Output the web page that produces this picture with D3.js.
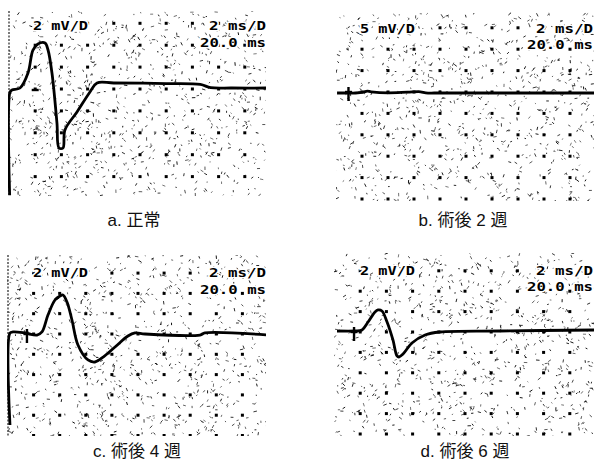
<!DOCTYPE html>
<html>
<head>
<meta charset="utf-8">
<script src="https://cdn.jsdelivr.net/npm/d3@7"></script>
<style>
  body { margin: 0; background: #fff; }
  svg { display: block; }
</style>
</head>
<body>
<svg id="chart" width="594" height="461"></svg>
<script>
// captions and screen labels
var captions = ["a. 正常", "b. 術後 2 週", "c. 術後 4 週", "d. 術後 6 週"];
var gainLabels = ["2 mV/D", "5 mV/D", "2 mV/D", "2 mV/D"];
var mvPerDiv = [2, 5, 2, 2];
var sweepLabel = "2 ms/D";
var delayLabel = "20.0 ms";

// traces: time (ms) and amplitude (mV)
var msA = [0.05, 0.08, 0.23, 0.84, 1.45, 1.83, 2.21, 2.75, 2.98, 3.28, 3.66, 3.82, 4.12, 4.27, 5.19, 6.18, 6.72, 8.0, 12.0, 14.6, 15.4, 17.0, 20.0];
var mvA = [-9.7, -0.27, -0.09, 0.09, 1.46, 3.56, 4.11, 4.2, 3.56, 1.46, -3.1, -5.39, -5.39, -3.74, -2.1, -0.27, 0.55, 0.55, 0.5, 0.42, 0.12, 0.09, 0.09];

var msB = [0.08, 0.96, 1.5, 2.1, 2.4, 2.7, 4.0, 5.5, 6.5, 6.9, 8.0, 12.0, 20.0];
var mvB = [-0.23, -0.23, -0.23, -0.05, 0.2, 0.05, -0.2, -0.05, 0.05, -0.2, -0.23, -0.23, -0.23];

var msC = [0.19, 0.19, 0.42, 1.34, 2.26, 2.64, 3.1, 3.64, 4.02, 4.25, 4.56, 4.94, 5.4, 6.17, 6.7, 7.24, 8.24, 9.23, 9.77, 10.54, 14.75, 15.13, 20.0];
var mvC = [-8.97, 0.1, 0.2, 0.1, -0.1, 0.2, 1.87, 3.35, 3.74, 3.84, 3.15, 1.38, -1.08, -2.56, -2.76, -2.36, -1.28, -0.2, 0.1, 0.0, -0.1, 0.1, -0.1];

var msD = [0.23, 1.6, 2.14, 2.6, 3.13, 3.36, 3.66, 4.05, 4.5, 4.81, 4.96, 5.27, 5.95, 6.95, 8.09, 12.67, 20.0];
var mvD = [0.1, 0.1, 0.2, 0.98, 1.96, 2.16, 2.06, 0.98, -0.78, -2.35, -2.45, -2.16, -1.08, -0.29, 0.0, 0.1, 0.2];

// stimulus marker position (ms)
var markerMs = [2.0, 0.96, 1.49, 1.53];

var traceMs = [msA, msB, msC, msD];
var traceMv = [mvA, mvB, mvC, mvD];

// screen geometry of each photo
var layout = [
  { left: 8, top: 11, right: 266, bottom: 196, x0: 9, divX: 26.2, baseY: 89, divY: 21.9,
    gainX: 33, gainY: 30, labelRight: 266, delayY: 47, capX: 134, capY: 226, edge: true, dash: true },
  { left: 336, top: 12, right: 594, bottom: 201, x0: 336, divX: 26.0, baseY: 92, divY: 21.4,
    gainX: 360, gainY: 33, labelRight: 593, delayY: 49, capX: 463, capY: 226, edge: false, dash: false },
  { left: 7, top: 255, right: 266, bottom: 436, x0: 7.5, divX: 26.1, baseY: 334, divY: 20.3,
    gainX: 33, gainY: 277, labelRight: 266, delayY: 294, capX: 137, capY: 457, edge: true, dash: false },
  { left: 334, top: 253, right: 594, bottom: 436, x0: 334, divX: 26.2, baseY: 332, divY: 20.4,
    gainX: 360, gainY: 275, labelRight: 593, delayY: 291, capX: 465, capY: 457, edge: false, dash: false }
];

var svg = d3.select("#chart");
var defs = svg.append("defs");

var drawPanel = function (i) {
  var L = layout[i];
  var x = d3.scaleLinear().domain([0, 20]).range([L.x0, L.x0 + 10 * L.divX]);
  var y = d3.scaleLinear().domain([0, mvPerDiv[i]]).range([L.baseY, L.baseY - L.divY]);

  defs.append("clipPath").attr("id", "clip" + i)
    .append("rect")
      .attr("x", L.left).attr("y", L.top)
      .attr("width", L.right - L.left).attr("height", L.bottom - L.top);

  var g = svg.append("g").attr("clip-path", "url(#clip" + i + ")");

  // photo grain (fixed seed so it is the same every time)
  var rnd = d3.randomLcg(0.137 + i * 0.21);
  var specks = d3.range(880).map(function () {
    var px = L.left + rnd() * (L.right - L.left);
    var py = L.top + rnd() * (L.bottom - L.top);
    var a = rnd() * Math.PI;
    var len = 1 + rnd() * 2.6;
    return [px, py, px + Math.cos(a) * len, py + Math.sin(a) * len, 0.55 + rnd() * 0.45];
  });
  g.selectAll("line.speck")
    .data(specks)
    .enter().append("line")
      .attr("class", "speck")
      .attr("x1", function (d) { return d[0]; })
      .attr("y1", function (d) { return d[1]; })
      .attr("x2", function (d) { return d[2]; })
      .attr("y2", function (d) { return d[3]; })
      .attr("stroke", "#111")
      .attr("stroke-opacity", function (d) { return d[4]; })
      .attr("stroke-width", 1);

  if (L.edge) {
    g.append("line")
      .attr("x1", L.left + 1).attr("x2", L.left + 1)
      .attr("y1", L.top).attr("y2", L.bottom)
      .attr("stroke", "#333")
      .attr("stroke-width", 1.3)
      .attr("stroke-dasharray", "2,1.5");
  }

  // graticule dots
  var cols = d3.range(2, 20, 2);
  var rows = d3.range(3, -6, -1).map(function (k) { return k * mvPerDiv[i]; });
  var dots = [];
  rows.forEach(function (r) { cols.forEach(function (c) { dots.push([c, r]); }); });
  g.selectAll("rect.dot")
    .data(dots)
    .enter().append("rect")
      .attr("class", "dot")
      .attr("x", function (d) { return x(d[0]) - 1.5; })
      .attr("y", function (d) { return y(d[1]) - 1.5; })
      .attr("width", 3)
      .attr("height", 3)
      .attr("fill", "#000");

  // labels on the screen
  var labelStyle = function (t, w) {
    t.style("font", "bold 13px 'DejaVu Sans Mono', monospace")
      .attr("textLength", w)
      .attr("lengthAdjust", "spacingAndGlyphs")
      .attr("fill", "#000")
      .attr("stroke", "#fff")
      .attr("stroke-width", 3)
      .attr("paint-order", "stroke");
  };
  g.append("text").attr("x", L.gainX).attr("y", L.gainY).text(gainLabels[i]).call(labelStyle, 55);
  g.append("text").attr("x", L.labelRight - 57).attr("y", L.gainY)
    .text(sweepLabel).call(labelStyle, 57);
  g.append("text").attr("x", L.labelRight - 66).attr("y", L.delayY)
    .text(delayLabel).call(labelStyle, 66);

  // stimulus marker
  var mx = x(markerMs[i]);
  var my = y(0);
  g.append("line")
    .attr("x1", mx - 3.5).attr("x2", mx + 3.5)
    .attr("y1", my + (L.dash ? 1 : 0)).attr("y2", my + (L.dash ? 1 : 0))
    .attr("stroke", "#000").attr("stroke-width", 2.4);
  if (!L.dash) {
    g.append("line")
      .attr("x1", mx).attr("x2", mx)
      .attr("y1", my - 5).attr("y2", my + 9)
      .attr("stroke", "#000").attr("stroke-width", 2.4);
  }

  // trace
  var pts = d3.zip(traceMs[i], traceMv[i]);
  var line = d3.line()
    .x(function (d) { return x(d[0]); })
    .y(function (d) { return y(d[1]); })
    .curve(d3.curveCatmullRom.alpha(0.5));
  g.append("path")
    .datum(pts)
    .attr("d", line)
    .attr("fill", "none")
    .attr("stroke", "#000")
    .attr("stroke-width", 2.8)
    .attr("stroke-linejoin", "round");

  // caption under the photo
  svg.append("text")
    .attr("x", L.capX)
    .attr("y", L.capY)
    .attr("text-anchor", "middle")
    .style("font", "17px 'Liberation Sans', 'Noto Sans CJK JP', sans-serif")
    .attr("fill", "#111")
    .text(captions[i]);
};

d3.range(4).forEach(drawPanel);
</script>
</body>
</html>
